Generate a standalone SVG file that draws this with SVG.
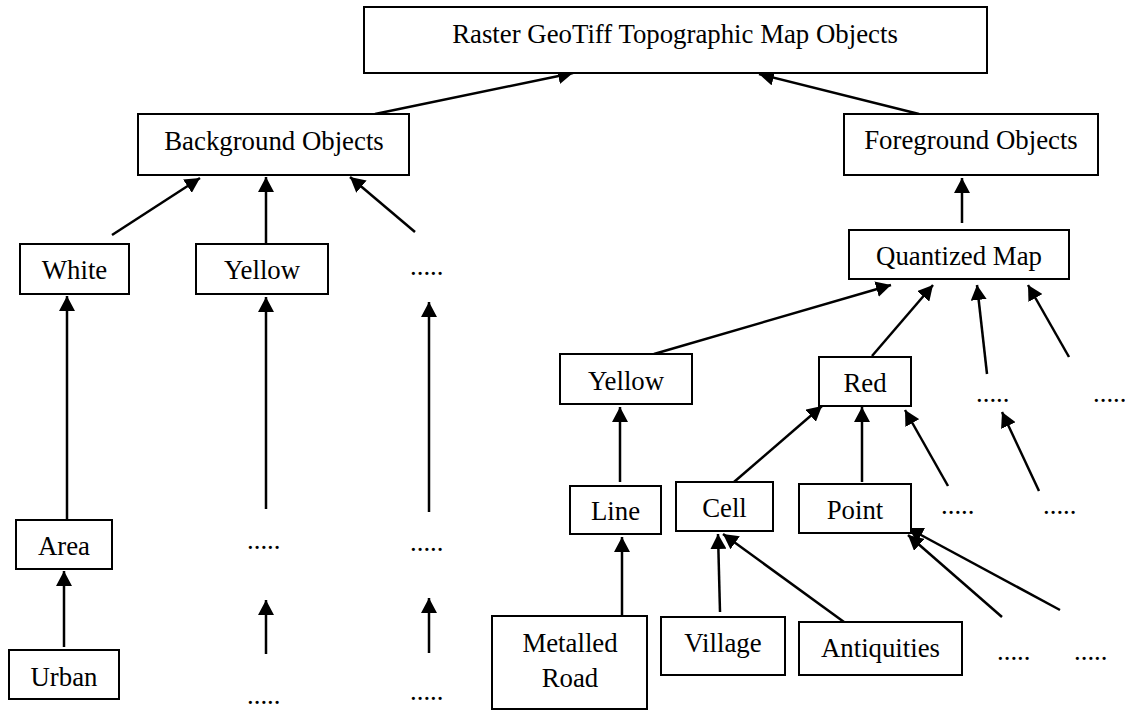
<svg xmlns="http://www.w3.org/2000/svg" width="1125" height="711" viewBox="0 0 1125 711">
  <style>
    .box { fill: #fff; stroke: #000; stroke-width: 2; }
    .lbl { font-family: "Liberation Serif", "Times New Roman", serif; font-size: 26.8px; fill: #000; text-anchor: middle; }
    .dots { font-family: "Liberation Serif", "Times New Roman", serif; font-size: 26.8px; fill: #000; }
    .edge { stroke: #000; stroke-width: 2.5; fill: none; marker-end: url(#arrow); }
  </style>
  <defs>
    <marker id="arrow" markerUnits="userSpaceOnUse" viewBox="0 0 15 16" refX="15" refY="8" markerWidth="15" markerHeight="16" orient="auto">
      <path d="M0,0 L15,8 L0,16 z" fill="#000"/>
    </marker>
  </defs>
  <rect width="1125" height="711" fill="#fff"/>

  <!-- connectors: child to parent, arrowhead at the parent -->
  <g id="connectors">
    <line class="edge" x1="375" y1="114" x2="573" y2="73"/>
    <line class="edge" x1="919" y1="114" x2="759" y2="74"/>
    <line class="edge" x1="112" y1="235" x2="200" y2="178"/>
    <line class="edge" x1="266" y1="243" x2="266" y2="177"/>
    <line class="edge" x1="415" y1="232" x2="350" y2="177"/>
    <line class="edge" x1="67" y1="520" x2="67" y2="296"/>
    <line class="edge" x1="64" y1="647" x2="64" y2="571"/>
    <line class="edge" x1="266" y1="509" x2="266" y2="297"/>
    <line class="edge" x1="266" y1="654" x2="266" y2="600"/>
    <line class="edge" x1="429" y1="512" x2="429" y2="302"/>
    <line class="edge" x1="429" y1="653" x2="429" y2="598"/>
    <line class="edge" x1="962" y1="223" x2="962" y2="178"/>
    <line class="edge" x1="654" y1="354" x2="891" y2="285"/>
    <line class="edge" x1="872" y1="356" x2="933" y2="285"/>
    <line class="edge" x1="987" y1="374" x2="977" y2="285"/>
    <line class="edge" x1="1069" y1="357" x2="1028" y2="285"/>
    <line class="edge" x1="620" y1="482" x2="620" y2="407"/>
    <line class="edge" x1="734" y1="482" x2="822" y2="406"/>
    <line class="edge" x1="862" y1="482" x2="862" y2="407"/>
    <line class="edge" x1="948" y1="486" x2="905" y2="410"/>
    <line class="edge" x1="1039" y1="491" x2="1002" y2="412"/>
    <line class="edge" x1="622" y1="616" x2="622" y2="537"/>
    <line class="edge" x1="720" y1="612" x2="718" y2="534"/>
    <line class="edge" x1="844" y1="622" x2="723" y2="534"/>
    <line class="edge" x1="1002" y1="617" x2="908" y2="535"/>
    <line class="edge" x1="1060" y1="610" x2="908" y2="528"/>
  </g>

  <!-- nodes -->
  <g id="n-root"><rect class="box" x="364" y="7" width="623" height="66"/><text class="lbl" x="675" y="43">Raster GeoTiff Topographic Map Objects</text></g>
  <g id="n-background"><rect class="box" x="138" y="114" width="271" height="61"/><text class="lbl" x="274" y="150">Background Objects</text></g>
  <g id="n-foreground"><rect class="box" x="844" y="114" width="254" height="61"/><text class="lbl" x="971" y="149">Foreground Objects</text></g>
  <g id="n-white"><rect class="box" x="20" y="244" width="109" height="50"/><text class="lbl" x="74.5" y="279">White</text></g>
  <g id="n-yellow-bg"><rect class="box" x="196" y="244" width="132" height="50"/><text class="lbl" x="262" y="279">Yellow</text></g>
  <g id="n-bg-more"><text class="dots" x="410" y="275">.....</text></g>
  <g id="n-area"><rect class="box" x="16" y="520" width="96" height="49"/><text class="lbl" x="64" y="555">Area</text></g>
  <g id="n-urban"><rect class="box" x="9" y="650" width="110" height="49"/><text class="lbl" x="64" y="686">Urban</text></g>
  <g id="n-col2-a"><text class="dots" x="247" y="549">.....</text></g>
  <g id="n-col2-b"><text class="dots" x="247" y="704">.....</text></g>
  <g id="n-col3-a"><text class="dots" x="410" y="551">.....</text></g>
  <g id="n-col3-b"><text class="dots" x="410" y="700">.....</text></g>

  <g id="n-quantized"><rect class="box" x="849" y="230" width="220" height="49"/><text class="lbl" x="959" y="265">Quantized Map</text></g>
  <g id="n-yellow-fg"><rect class="box" x="560" y="354" width="132" height="50"/><text class="lbl" x="626" y="390">Yellow</text></g>
  <g id="n-red"><rect class="box" x="819" y="357" width="92" height="49"/><text class="lbl" x="865" y="392">Red</text></g>
  <g id="n-q-more1"><text class="dots" x="976" y="402">.....</text></g>
  <g id="n-q-more2"><text class="dots" x="1093" y="402">.....</text></g>
  <g id="n-line"><rect class="box" x="570" y="486" width="91" height="48"/><text class="lbl" x="615.5" y="520">Line</text></g>
  <g id="n-cell"><rect class="box" x="676" y="482" width="97" height="49"/><text class="lbl" x="724.5" y="517">Cell</text></g>
  <g id="n-point"><rect class="box" x="799" y="484" width="112" height="49"/><text class="lbl" x="855" y="519">Point</text></g>
  <g id="n-r-more1"><text class="dots" x="941" y="514">.....</text></g>
  <g id="n-r-more2"><text class="dots" x="1043" y="514">.....</text></g>
  <g id="n-metalled"><rect class="box" x="492" y="616" width="155" height="93"/><text class="lbl" x="570" y="652">Metalled</text><text class="lbl" x="570" y="687">Road</text></g>
  <g id="n-village"><rect class="box" x="661" y="617" width="124" height="58"/><text class="lbl" x="723" y="652">Village</text></g>
  <g id="n-antiquities"><rect class="box" x="799" y="622" width="163" height="53"/><text class="lbl" x="880.5" y="657">Antiquities</text></g>
  <g id="n-p-more1"><text class="dots" x="997" y="660">.....</text></g>
  <g id="n-p-more2"><text class="dots" x="1074" y="660">.....</text></g>
</svg>
